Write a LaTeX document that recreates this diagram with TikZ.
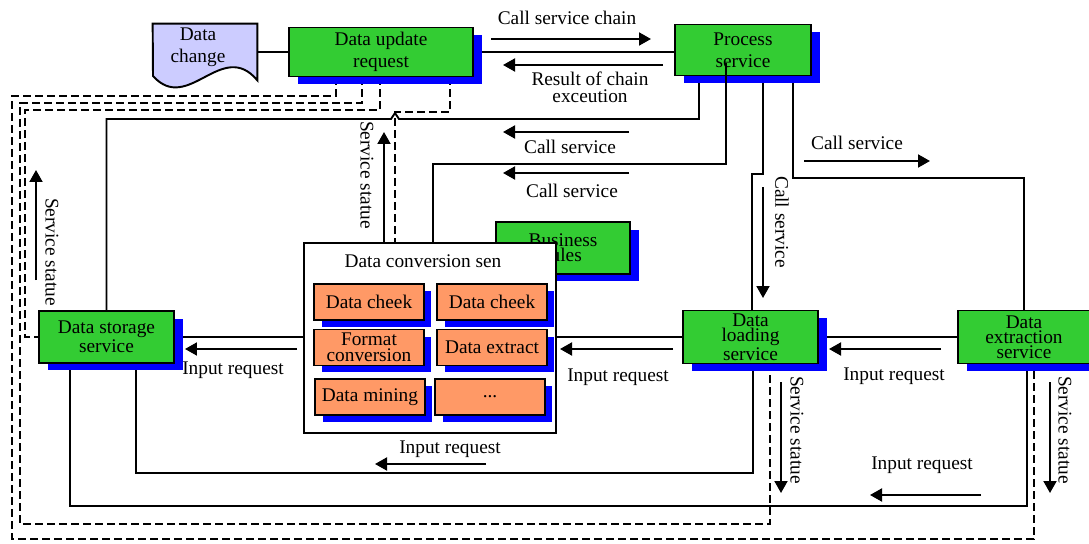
\documentclass[tikz,border=0pt]{standalone}
\usepackage{fontspec}
\setmainfont{Liberation Serif}
\usetikzlibrary{arrows.meta, positioning, backgrounds, shadows}

\definecolor{svcgreen}{RGB}{51,204,51}
\definecolor{modorange}{RGB}{255,153,102}
\definecolor{docblue}{RGB}{204,204,255}

\begin{document}
\begin{tikzpicture}[
    x=0.02cm, y=-0.02cm,
    font=\fontsize{11}{12.5}\selectfont,
    svc/.style={rectangle, draw=black, line width=1.1pt, fill=svcgreen, align=center, inner sep=1pt, general shadow={fill=blue, shadow xshift=0.18cm, shadow yshift=-0.15cm}},
    tight/.style={font=\fontsize{11}{8.5}\selectfont},
    module/.style={rectangle, draw=black, line width=1.1pt, fill=modorange, align=center, inner sep=1pt, minimum width=2.2cm, minimum height=0.72cm, general shadow={fill=blue, shadow xshift=0.15cm, shadow yshift=-0.14cm}},
    link/.style={line width=1.1pt},
    status/.style={line width=1.1pt, dash pattern=on 0.16cm off 0.08cm},
    flag/.style={-{Triangle[length=0.24cm, width=0.26cm]}, line width=1.1pt},
    lbl/.style={inner sep=0pt, align=center}
]
\useasboundingbox (0,0) rectangle (1089,544);

% Data change document
\node[minimum width=2.08cm, minimum height=1.12cm, inner sep=0pt] (dc) at (205,52) {};
\draw[line width=1.1pt, fill=docblue] (dc.north west) -- (dc.north east) -- (dc.south east)
    .. controls (222,38) and (188,115) .. (153,76) -- cycle;
\node[lbl] (dctext) at (198,47) {Data\\change};

% Top services
\node[svc, minimum width=3.68cm, minimum height=0.98cm] (du) at (381,52) {Data update\\request};
\node[svc, minimum width=2.72cm, minimum height=1.02cm] (ps) at (743,50) {Process\\service};

% Business rules sits behind the conversion service
\node[svc, tight, minimum width=2.68cm, minimum height=1.04cm] (br) at (563,248) {Business\\rules};

% Data conversion service with its modules
\node[rectangle, draw=black, line width=1.1pt, fill=white, minimum width=5.04cm, minimum height=3.8cm] (cv) at (430,338) {};
\node[lbl] (cvtitle) at (423,261) {Data conversion sen};
\node[module] (ck1) at (369,302) {Data cheek};
\node[module] (ck2) at (492,302) {Data cheek};
\node[module, font=\fontsize{11}{9}\selectfont] (fc) at (369,347.5) {Format\\conversion};
\node[module] (dx) at (492,347.5) {Data extract};
\node[module] (dm) at (370,397) {Data mining};
\node[module] (more) at (490,397) {...};

% Row of services
\node[svc, font=\fontsize{11}{8}\selectfont, minimum width=2.7cm, minimum height=1.04cm] (st) at (106.5,337) {Data storage\\service};
\node[svc, tight, minimum width=2.7cm, minimum height=1.06cm] (ld) at (750.5,337) {Data\\loading\\service};
\node[svc, tight, minimum width=2.64cm, minimum height=1.06cm] (ex) at (1024,337) {Data\\extraction\\service};

% Bends of the connectors
\coordinate (k1) at (699,119);
\coordinate (k2) at (726,164);
\coordinate (k3) at (433,164);
\coordinate (k4) at (763,174);
\coordinate (k6) at (793,178);
\coordinate (k7) at (136,473);
\coordinate (k8) at (753,473);
\coordinate (k9) at (70,506);
\coordinate (k10) at (1027,506);

% Bends of the status lines
\coordinate (d1) at (336,96);
\coordinate (d1b) at (12,539);
\coordinate (d1c) at (1034,539);
\coordinate (d2) at (362,103);
\coordinate (d2b) at (20,524);
\coordinate (d2c) at (770,524);
\coordinate (d3) at (380,110);
\coordinate (d3b) at (25,337);
\coordinate (d4) at (450,112);
\coordinate (d4b) at (395,112);

\begin{scope}[on background layer]
% Solid connectors
\draw[link] (dc.east) -- (dc.east -| du.west);
\draw[link] (du.east) -- (du.east -| ps.west);
\draw[link] (ps.south -| k1) -- (k1) -- ++(-300,0) -- ++(-4,-6) -- ++(-4,6) -| (st.north);
\draw[link] (ps.south -| k4) -- (k4) -- ++(-11,0) coordinate (k5) -- (k5 |- ld.north);
\draw[link] (ps.south -| k6) -- (k6) -| (ex.north);
\draw[link] (st.east) -- (st.east -| cv.west);
\draw[link] (cv.east |- ld.west) -- (ld.west);
\draw[link] (ld.east) -- (ex.west);
\draw[link] (st.south -| k7) -- (k7) -- (k8) -- (ld.south -| k8);
\draw[link] (st.south -| k9) -- (k9) -- (k10) -- (ex.south -| k10);

% Service status lines
\draw[status] (du.south -| d1) -- (d1) -| (d1b) -- (d1c) -- (ex.south -| d1c);
\draw[status] (du.south -| d2) -- (d2) -| (d2b) -- (d2c) -- (ld.south -| d2c);
\draw[status] (du.south -| d3) -- (d3) -| (d3b) -- (st.west);
\draw[status] (du.south -| d4) -- (d4) -- (d4b) -- (d4b |- cv.north);
\end{scope}

% Process service to conversion service
\draw[link] (ps.center -| k2) ++(0,13) -- (k2) -- (k3) -- (k3 |- cv.north);

% Labelled arrows
\coordinate (a1s) at (491,39);   \coordinate (a1e) at (651,39);
\coordinate (a2s) at (663,65);   \coordinate (a2e) at (503,65);
\coordinate (a3s) at (629,132);  \coordinate (a3e) at (503,132);
\coordinate (a4s) at (629,173);  \coordinate (a4e) at (503,173);
\coordinate (a5s) at (804,161);  \coordinate (a5e) at (930,161);
\coordinate (a6s) at (763,187);  \coordinate (a6e) at (763,298);
\coordinate (a7s) at (297,349);  \coordinate (a7e) at (185,349);
\coordinate (a8s) at (673,349);  \coordinate (a8e) at (560,349);
\coordinate (a9s) at (941,349);  \coordinate (a9e) at (829,349);
\coordinate (a10s) at (486,464); \coordinate (a10e) at (375,464);
\coordinate (a11s) at (981,495); \coordinate (a11e) at (870,495);
\coordinate (a12s) at (36,280);  \coordinate (a12e) at (36,170);
\coordinate (a13e) at (384,132);
\coordinate (a14s) at (781,382); \coordinate (a14e) at (781,493);
\coordinate (a15s) at (1050,382); \coordinate (a15e) at (1050,493);

\draw[flag] (a1s) -- (a1e);
\draw[flag] (a2s) -- (a2e);
\draw[flag] (a3s) -- (a3e);
\draw[flag] (a4s) -- (a4e);
\draw[flag] (a5s) -- (a5e);
\draw[flag] (a6s) -- (a6e);
\draw[flag] (a7s) -- (a7e);
\draw[flag] (a8s) -- (a8e);
\draw[flag] (a9s) -- (a9e);
\draw[flag] (a10s) -- (a10e);
\draw[flag] (a11s) -- (a11e);
\draw[flag] (a12s) -- (a12e);
\draw[flag] (cv.north -| a13e) -- (a13e);
\draw[flag] (a14s) -- (a14e);
\draw[flag] (a15s) -- (a15e);

\node[lbl] (lcsc) at (567,18) {Call service chain};
\node[lbl, font=\fontsize{11}{9.5}\selectfont] (lres) at (590,87) {Result of chain\\exceution};
\node[lbl] (lcs1) at (570,147) {Call service};
\node[lbl] (lcs2) at (572,191) {Call service};
\node[lbl] (lcs3) at (857,143) {Call service};
\node[lbl, rotate=-90] (lcs4) at (782,222) {Call service};
\node[lbl, rotate=-90] (lss1) at (367,175) {Service statue};
\node[lbl, rotate=-90] (lss2) at (52,252) {Service statue};
\node[lbl, rotate=-90] (lss3) at (797,430) {Service statue};
\node[lbl, rotate=-90] (lss4) at (1065,430) {Service statue};
\node[lbl] (lin1) at (233,370) {Input request};
\node[lbl] (lin2) at (618,377) {Input request};
\node[lbl] (lin3) at (894,376) {Input request};
\node[lbl] (lin4) at (450,449) {Input request};
\node[lbl] (lin5) at (922,465) {Input request};

\end{tikzpicture}
\end{document}
